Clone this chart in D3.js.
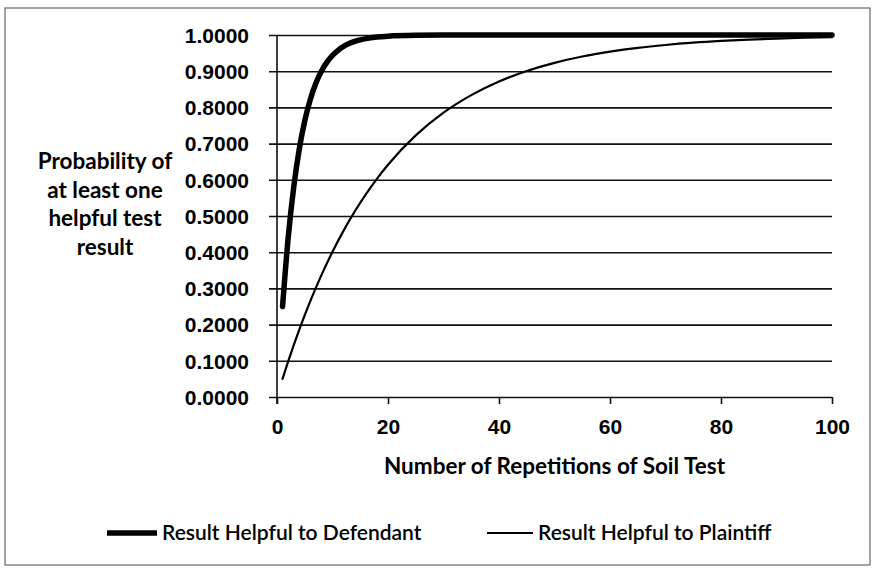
<!DOCTYPE html>
<html>
<head>
<meta charset="utf-8">
<script src="https://cdn.jsdelivr.net/npm/d3@7"></script>
<style>
  body { margin: 0; background: #fff; }
  svg { display: block; font-family: Lato, "Open Sans", sans-serif; }
</style>
</head>
<body>
<div id="chart"></div>
<script>
// Repetitions (n) and probability of at least one helpful result
var defN = [1, 2, 3, 4, 5, 6, 7, 8, 9, 10, 11, 12, 13, 14, 15, 16, 18, 20, 25, 30, 40, 50, 60, 70, 80, 90, 100];
var defP = [0.2500, 0.4375, 0.5781, 0.6836, 0.7627, 0.8220, 0.8665, 0.8999, 0.9249, 0.9437, 0.9578, 0.9683, 0.9762,
            0.9822, 0.9866, 0.9900, 0.9944, 0.9968, 0.9992, 0.9998, 1.0000, 1.0000, 1.0000, 1.0000, 1.0000, 1.0000, 1.0000];

var plaN = [1, 2, 3, 4, 5, 6, 8, 10, 12, 14, 16, 18, 20, 25, 30, 35, 40, 45, 50, 55, 60, 65, 70, 75, 80, 85, 90, 95, 100];
var plaP = [0.0500, 0.0975, 0.1426, 0.1855, 0.2262, 0.2649, 0.3366, 0.4013, 0.4596, 0.5123, 0.5599, 0.6028, 0.6415,
            0.7226, 0.7854, 0.8339, 0.8715, 0.9006, 0.9231, 0.9405, 0.9539, 0.9644, 0.9724, 0.9787, 0.9835, 0.9872,
            0.9901, 0.9924, 0.9941];

var xTicks = [0, 20, 40, 60, 80, 100];
var yTicks = [0, 0.1, 0.2, 0.3, 0.4, 0.5, 0.6, 0.7, 0.8, 0.9, 1.0];
var yTitle = ["Probability of", "at least one", "helpful test", "result"];
var xTitle = "Number of Repetitions of Soil Test";
var seriesNames = ["Result Helpful to Defendant", "Result Helpful to Plaintiff"];

var W = 874, H = 568;
var plot = { left: 277, right: 832, top: 35, bottom: 397 };

var svg = d3.select("#chart").append("svg")
    .attr("width", W)
    .attr("height", H);

svg.append("rect").attr("width", W).attr("height", H).attr("fill", "#fff");

// outer frame
svg.append("rect")
    .attr("x", 5).attr("y", 8)
    .attr("width", 865).attr("height", 557)
    .attr("fill", "none")
    .attr("stroke", "#666")
    .attr("stroke-width", 1.2);

var x = d3.scaleLinear().domain([0, 100]).range([plot.left, plot.right]);
var y = d3.scaleLinear().domain([0, 1]).range([plot.bottom, plot.top]);

// y axis + gridlines
var gY = svg.append("g")
    .attr("transform", "translate(" + plot.left + ",0)")
    .call(d3.axisLeft(y)
        .tickValues(yTicks)
        .tickSizeInner(-(plot.right - plot.left))
        .tickSizeOuter(0)
        .tickFormat(d3.format(".4f")));
gY.select(".domain").remove();
gY.selectAll(".tick line")
    .attr("x1", -8)
    .attr("stroke", "#111")
    .attr("stroke-width", 1.6);
gY.selectAll(".tick text")
    .attr("x", -28)
    .attr("dy", "0.35em")
    .attr("fill", "#000")
    .style("font-size", "21px")
    .style("font-weight", "bold");

svg.append("line")
    .attr("x1", plot.left).attr("x2", plot.left)
    .attr("y1", plot.top).attr("y2", plot.bottom + 7)
    .attr("stroke", "#111")
    .attr("stroke-width", 1.6);

// x axis
var gX = svg.append("g")
    .attr("transform", "translate(0," + plot.bottom + ")")
    .call(d3.axisBottom(x)
        .tickValues(xTicks)
        .tickSizeInner(7)
        .tickSizeOuter(0)
        .tickPadding(15));
gX.select(".domain").remove();
gX.selectAll(".tick line").attr("stroke", "#111").attr("stroke-width", 1.6);
gX.selectAll(".tick text")
    .attr("fill", "#000")
    .style("font-size", "21px")
    .style("font-weight", "bold");

// titles
svg.append("text")
    .attr("x", (plot.left + plot.right) / 2)
    .attr("y", 474)
    .attr("text-anchor", "middle")
    .style("font-size", "22.5px")
    .style("font-weight", "bold")
    .text(xTitle);

svg.append("g").selectAll("text")
    .data(yTitle)
    .enter().append("text")
    .attr("x", 105)
    .attr("y", function (d, i) { return 169 + i * 28.5; })
    .attr("text-anchor", "middle")
    .style("font-size", "22.5px")
    .style("font-weight", "bold")
    .text(function (d) { return d; });

// series
var line = d3.line()
    .x(function (d) { return x(d[0]); })
    .y(function (d) { return y(d[1]); })
    .curve(d3.curveMonotoneX);

var series = [
    { name: seriesNames[0], pts: d3.zip(defN, defP), width: 5.5 },
    { name: seriesNames[1], pts: d3.zip(plaN, plaP), width: 2.2 }
];

svg.append("g").selectAll("path")
    .data(series)
    .enter().append("path")
    .attr("d", function (d) { return line(d.pts); })
    .attr("fill", "none")
    .attr("stroke", "#000")
    .attr("stroke-width", function (d) { return d.width; })
    .attr("stroke-linecap", "round")
    .attr("stroke-linejoin", "round");

// legend
var legX = [107, 487];
var leg = svg.append("g").selectAll("g")
    .data(series)
    .enter().append("g")
    .attr("transform", function (d, i) { return "translate(" + legX[i] + ",533)"; });
leg.append("line")
    .attr("x1", 0)
    .attr("x2", function (d, i) { return i === 0 ? 50 : 46; })
    .attr("stroke", "#000")
    .attr("stroke-width", function (d) { return d.width; });
leg.append("text")
    .attr("x", function (d, i) { return i === 0 ? 55 : 51; })
    .attr("dy", "0.35em")
    .style("font-size", "21px")
    .style("font-weight", 600)
    .text(function (d) { return d.name; });
</script>
</body>
</html>
